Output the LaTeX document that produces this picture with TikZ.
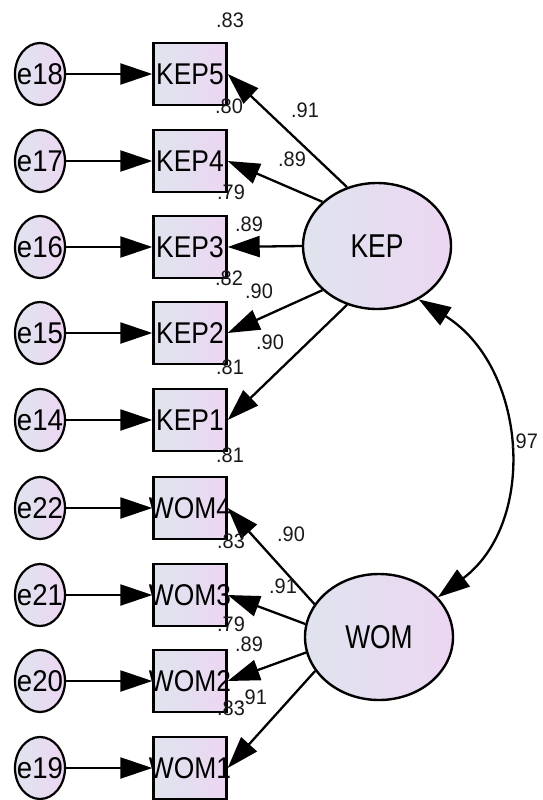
\documentclass[tikz,border=0pt]{standalone}
\usepackage{fontspec}
\setmainfont{Liberation Sans}
\usepackage{graphicx}
\usetikzlibrary{arrows.meta,shapes.geometric}
\definecolor{gl}{RGB}{223,228,238}
\definecolor{gr}{RGB}{236,214,242}
\newcommand\obstext[1]{\makebox[0pt]{\fontsize{30}{30}\selectfont\scalebox{0.88}[1]{#1}}}
\newcommand\errtext[1]{\makebox[0pt]{\fontsize{30}{30}\selectfont\scalebox{0.92}[1]{#1}}}
\newcommand\lattext[1]{\makebox[0pt]{\fontsize{33}{33}\selectfont\scalebox{0.8}[1]{#1}}}
\newcommand\labtext[1]{\fontsize{21}{21}\selectfont\scalebox{0.95}[1]{#1}}
\begin{document}
\begin{tikzpicture}[x=1pt,y=-1pt,
  obs/.style={rectangle, draw, line width=2.4pt, minimum width=73pt, minimum height=62pt, inner sep=0pt, left color=gl, right color=gr},
  err/.style={ellipse, draw, line width=2.2pt, minimum width=50pt, minimum height=62pt, inner sep=0pt, left color=gl, right color=gr},
  lat/.style={ellipse, draw, line width=2.4pt, minimum width=148pt, minimum height=126pt, inner sep=0pt, left color=gl, right color=gr},
  ar/.style={-{Triangle[length=32pt,width=21pt]}, line width=2.3pt},
  dar/.style={{Triangle[length=32pt,width=21pt]}-{Triangle[length=32pt,width=21pt]}, line width=2.3pt},
  lab/.style={inner sep=0pt, text=black!90}]
\useasboundingbox (0,0) rectangle (542,800);
% latent variables
\node[lat] (KEP) at (377,246) {\lattext{KEP}};
\node[lat] (WOM) at (379,637) {\lattext{WOM}};
% observed
\node[obs] (KEP5) at (190,74) {\obstext{KEP5}};
\node[obs] (KEP4) at (190,161) {\obstext{KEP4}};
\node[obs] (KEP3) at (190,247) {\obstext{KEP3}};
\node[obs] (KEP2) at (190,333) {\obstext{KEP2}};
\node[obs] (KEP1) at (190,420) {\obstext{KEP1}};
\node[obs] (WOM4) at (190,508) {\obstext{WOM4}};
\node[obs] (WOM3) at (190,595) {\obstext{WOM3}};
\node[obs] (WOM2) at (190,681) {\obstext{WOM2}};
\node[obs] (WOM1) at (190,768) {\obstext{WOM1}};
% errors
\node[err] (e18) at (40,74) {\errtext{e18}};
\node[err] (e17) at (40,161) {\errtext{e17}};
\node[err] (e16) at (40,247) {\errtext{e16}};
\node[err] (e15) at (40,333) {\errtext{e15}};
\node[err] (e14) at (40,420) {\errtext{e14}};
\node[err] (e22) at (40,508) {\errtext{e22}};
\node[err] (e21) at (40,595) {\errtext{e21}};
\node[err] (e20) at (40,681) {\errtext{e20}};
\node[err] (e19) at (40,768) {\errtext{e19}};
% error arrows
\draw[ar] (e18) -- (KEP5);
\draw[ar] (e17) -- (KEP4);
\draw[ar] (e16) -- (KEP3);
\draw[ar] (e15) -- (KEP2);
\draw[ar] (e14) -- (KEP1);
\draw[ar] (e22) -- (WOM4);
\draw[ar] (e21) -- (WOM3);
\draw[ar] (e20) -- (WOM2);
\draw[ar] (e19) -- (WOM1);
% loadings
\draw[ar] (KEP.117) -- (KEP5.east);
\draw[ar] (KEP.141) -- (KEP4.east);
\draw[ar] (KEP.180) -- (KEP3.east);
\draw[ar] (KEP.219) -- (KEP2.east);
\draw[ar] (KEP.243) -- (KEP1.east);
\draw[ar] (WOM.153) -- (WOM4.east);
\draw[ar] (WOM.170) -- (WOM3.east);
\draw[ar] (WOM.192) -- (WOM2.east);
\draw[ar] (WOM.208) -- (WOM1.east);
% covariance
\draw[dar] (KEP.-52) .. controls (527,367) and (538,522) .. (WOM.34);
% labels
\node[lab] (r5) at (230,20) {\labtext{.83}};
\node[lab] (r4) at (229,106) {\labtext{.80}};
\node[lab] (r3) at (231,192) {\labtext{.79}};
\node[lab] (r2) at (229,278) {\labtext{.82}};
\node[lab] (r1) at (230,367) {\labtext{.81}};
\node[lab] (rw4) at (230,455) {\labtext{.81}};
\node[lab] (rw3) at (231,541) {\labtext{.83}};
\node[lab] (rw2) at (231,624) {\labtext{.79}};
\node[lab] (rw1) at (231,708) {\labtext{.83}};
\node[lab] (l5) at (305,110) {\labtext{.91}};
\node[lab] (l4) at (292,159) {\labtext{.89}};
\node[lab] (l3) at (249,224) {\labtext{.89}};
\node[lab] (l2) at (259,291) {\labtext{.90}};
\node[lab] (l1) at (270,342) {\labtext{.90}};
\node[lab] (m4) at (291,534) {\labtext{.90}};
\node[lab] (m3) at (283,586) {\labtext{.91}};
\node[lab] (m2) at (249,644) {\labtext{.89}};
\node[lab] (m1) at (253,697) {\labtext{.91}};
\node[lab] (cv) at (524,441) {\labtext{.97}};
\end{tikzpicture}
\end{document}
